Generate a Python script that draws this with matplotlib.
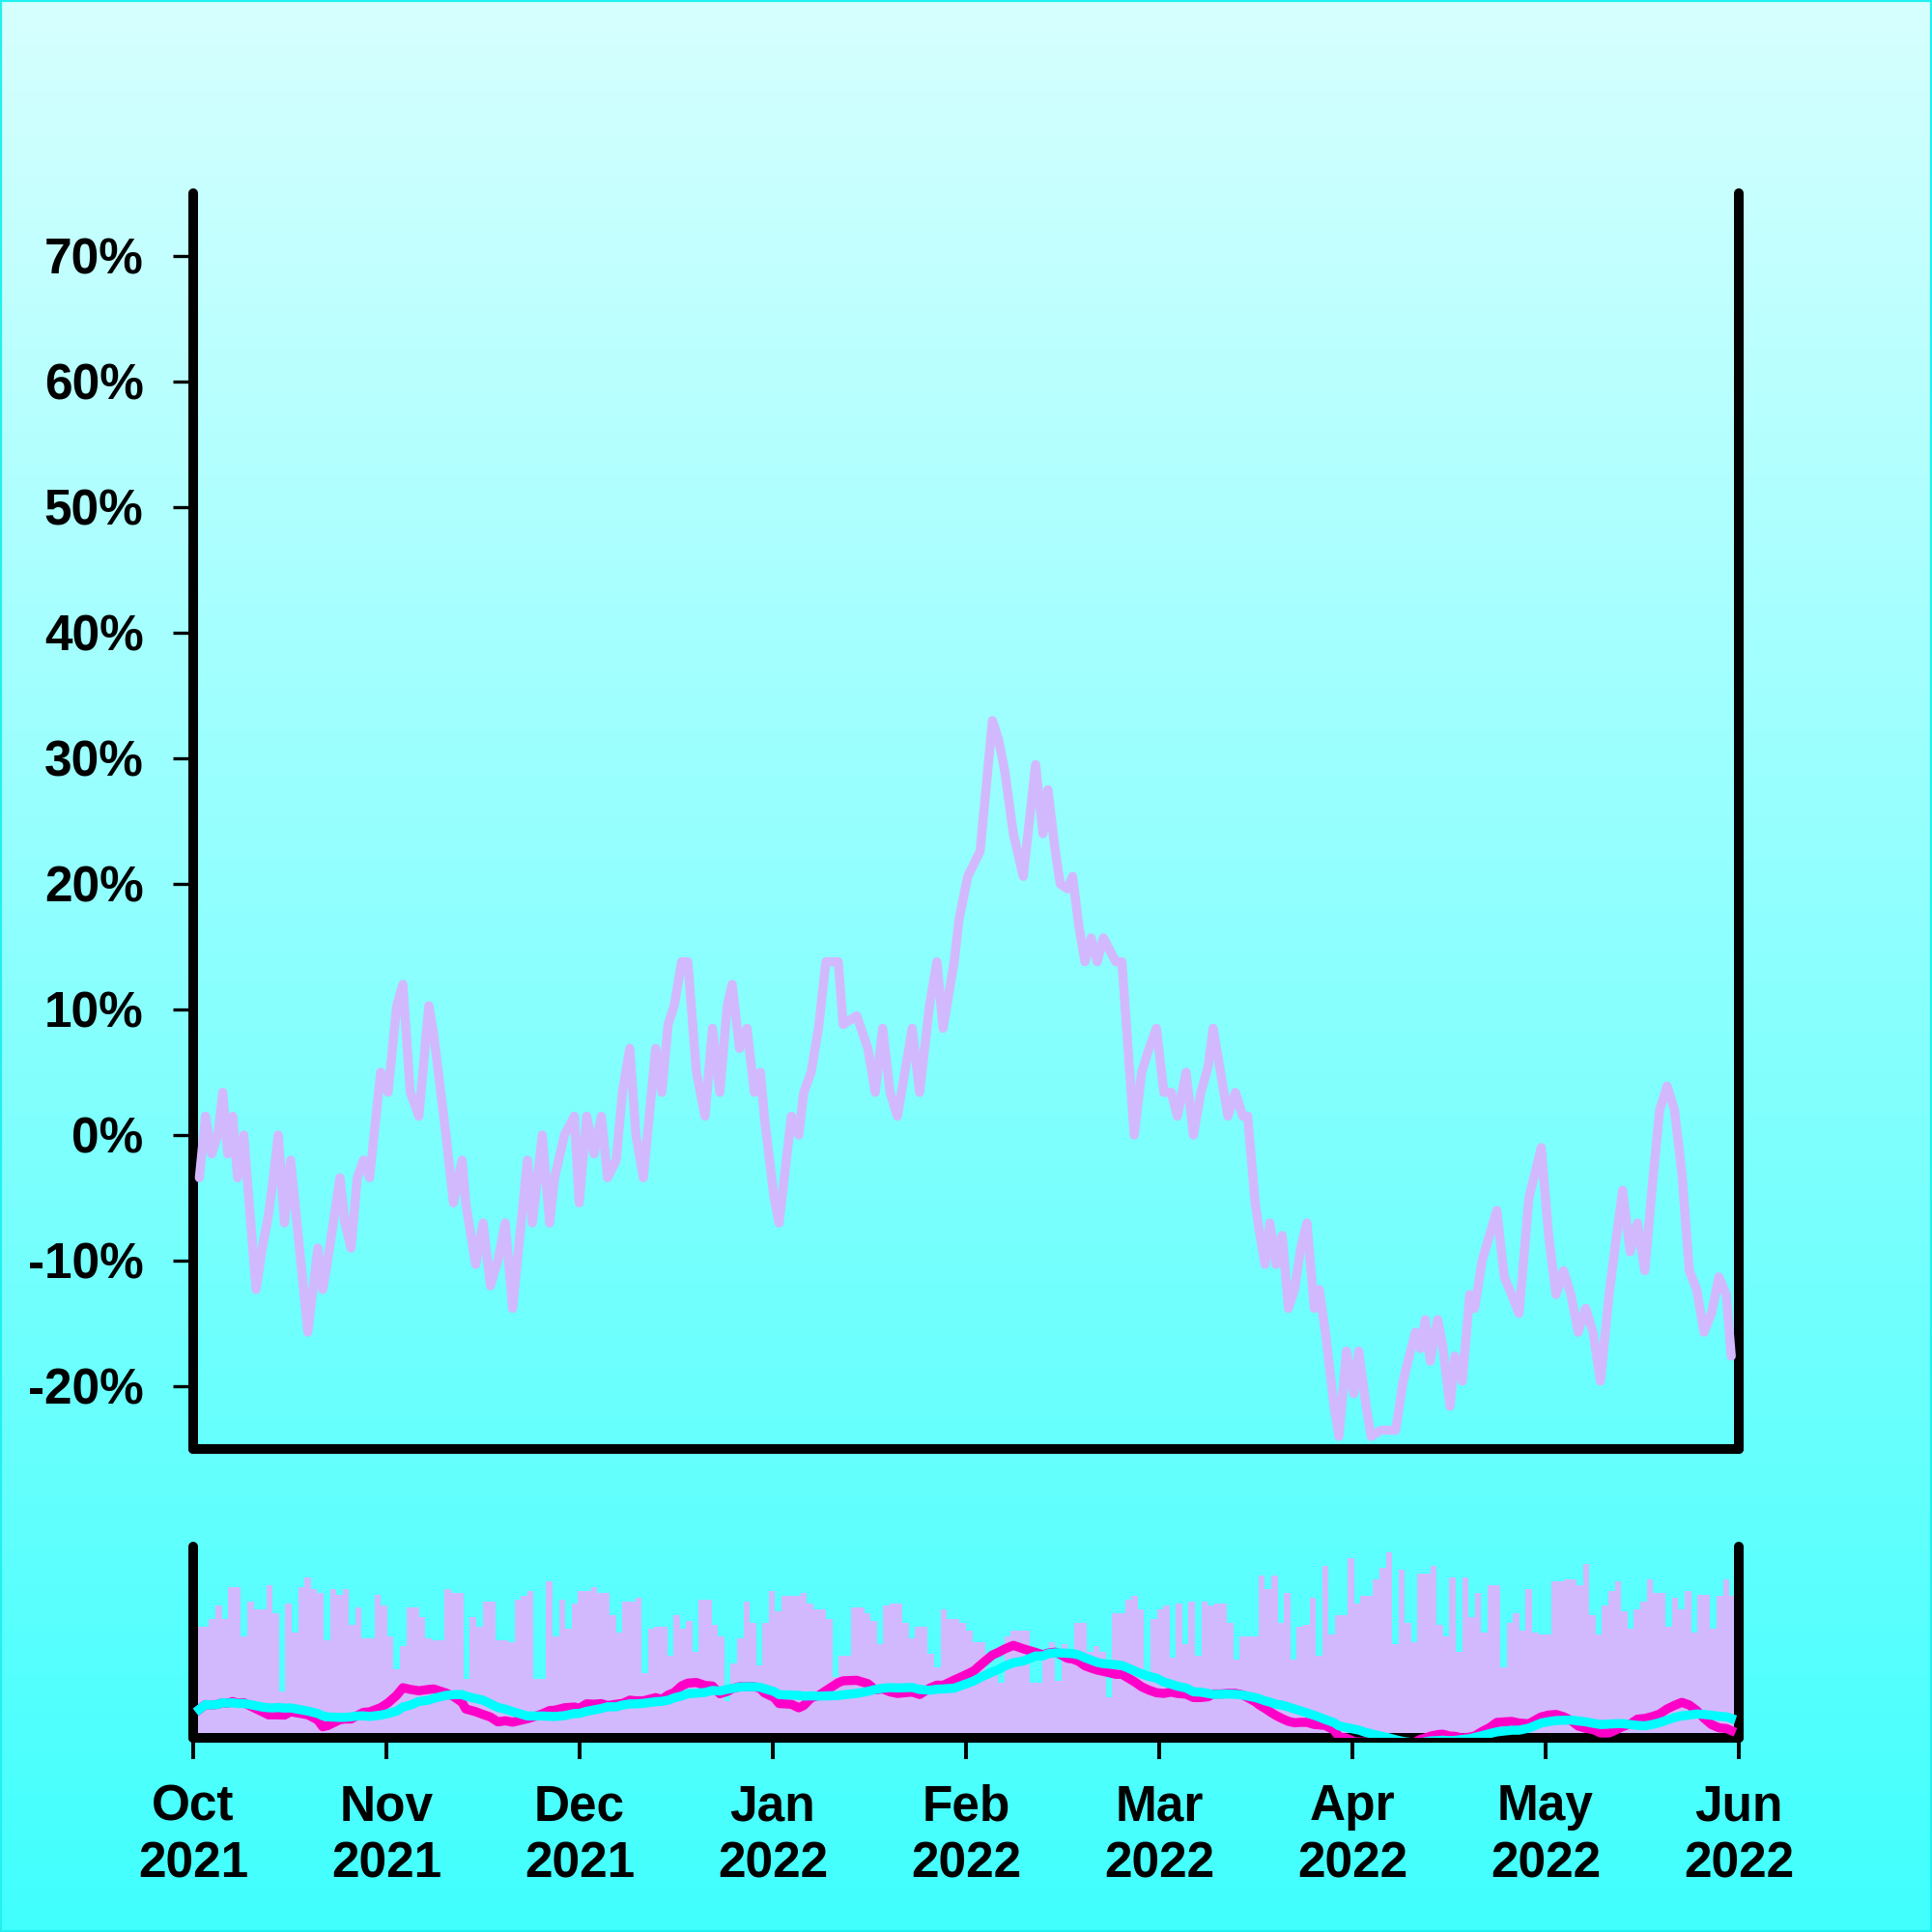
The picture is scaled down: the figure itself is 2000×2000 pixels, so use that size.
import numpy as np
import pandas as pd
import matplotlib
matplotlib.use("Agg")
import matplotlib.pyplot as plt
from matplotlib.ticker import FuncFormatter, FixedLocator
from matplotlib.colors import LinearSegmentedColormap
from matplotlib.patches import Rectangle

# ---------------- data ----------------
# x axis: day offsets from 2021-10-01, months spaced evenly (Oct 2021 .. Jun 2022)
x_span_days = 243
month_labels = ["Oct\n2021", "Nov\n2021", "Dec\n2021", "Jan\n2022", "Feb\n2022",
                "Mar\n2022", "Apr\n2022", "May\n2022", "Jun\n2022"]

price_day = [0.97, 1.94, 2.91, 3.88, 4.65, 5.43, 6.21, 6.98, 7.95, 9.89,
             10.86, 11.83, 12.60, 13.38, 14.35, 15.32, 18.03, 19.59, 20.36, 21.14,
             23.08, 23.85, 24.82, 25.79, 26.76, 27.73, 29.47, 30.64, 32.00, 32.97,
             34.13, 35.49, 37.04, 37.81, 39.75, 40.92, 42.27, 42.85, 44.41, 45.57,
             46.73, 47.90, 49.06, 50.22, 52.55, 53.33, 54.88, 56.04, 56.82, 58.37,
             59.92, 60.69, 61.86, 63.02, 64.18, 65.15, 66.51, 67.48, 68.64, 69.61,
             70.78, 72.72, 73.69, 74.66, 75.63, 76.79, 77.76, 79.12, 80.47, 81.64,
             82.80, 83.96, 84.74, 85.90, 87.07, 88.23, 89.20, 89.78, 91.33, 92.11,
             94.05, 95.21, 95.99, 97.15, 98.31, 99.48, 101.42, 102.19, 104.32, 106.07,
             107.23, 108.40, 109.56, 110.72, 113.05, 114.21, 115.76, 116.93, 117.90, 119.64,
             120.42, 121.78, 122.75, 123.72, 125.66, 126.62, 127.59, 128.95, 130.50, 132.44,
             133.60, 134.38, 135.54, 136.32, 137.48, 138.26, 139.23, 140.20, 141.17, 142.14,
             143.11, 145.05, 146.01, 147.95, 149.12, 150.28, 151.44, 152.61, 153.77, 154.74,
             156.10, 157.26, 158.43, 159.59, 160.36, 161.53, 162.69, 163.85, 165.02, 165.79,
             166.96, 167.73, 168.51, 169.28, 170.25, 171.22, 172.19, 173.16, 174.13, 175.10,
             176.26, 177.04, 178.01, 179.37, 180.14, 181.31, 182.47, 183.25, 184.41, 185.19,
             186.74, 187.90, 189.06, 190.23, 191.00, 192.17, 192.94, 193.72, 194.49, 195.66,
             196.43, 197.60, 198.37, 199.53, 200.70, 201.47, 202.64, 203.80, 204.96, 206.13,
             207.29, 208.45, 210.01, 210.78, 211.94, 213.11, 214.27, 215.44, 216.60, 217.76,
             218.93, 220.09, 221.25, 222.61, 223.58, 224.74, 225.91, 227.07, 228.23, 229.40,
             230.56, 231.73, 232.89, 234.05, 235.22, 236.38, 237.54, 238.71, 239.87, 241.03,
             241.81]

price_pct = [-3.4, 1.5, -1.5, 0, 3.4, -1.5, 1.5, -3.4, 0, -12.3,
             -9, -6.4, -3.4, 0, -7, -2, -15.7, -9, -12.3, -10,
             -3.4, -7, -9, -3.4, -2, -3.4, 5, 3.4, 10.3, 12,
             3.4, 1.5, 10.3, 8, 0, -5.4, -2, -5.4, -10.3, -7,
             -12, -10, -7, -13.8, -2, -7, 0, -7, -3.4, 0,
             1.5, -5.4, 1.5, -1.5, 1.5, -3.4, -2, 3.4, 6.9, 0,
             -3.4, 6.9, 3.4, 8.8, 10.3, 13.8, 13.8, 5, 1.5, 8.5,
             3.4, 10.3, 12, 6.9, 8.5, 3.4, 5, 1.5, -5, -7,
             1.5, 0, 3.4, 5, 8.5, 13.8, 13.8, 8.8, 9.5, 6.9,
             3.4, 8.5, 3.4, 1.5, 8.5, 3.4, 10.3, 13.8, 8.5, 13.8,
             17.2, 20.6, 21.6, 22.6, 33, 31.5, 29, 24, 20.6, 29.5,
             24, 27.5, 22.6, 20, 19.6, 20.6, 16.7, 13.8, 15.7, 13.8,
             15.7, 13.8, 13.8, 0, 5, 6.9, 8.5, 3.4, 3.4, 1.5,
             5, 0, 3.4, 5.5, 8.5, 5, 1.5, 3.4, 1.5, 1.5,
             -5.4, -8, -10.3, -7, -10.3, -8, -13.8, -12.3, -9, -7,
             -13.8, -12.3, -15.7, -21.6, -24, -17.2, -20.6, -17.2, -21.6, -24,
             -23.5, -23.5, -23.5, -19.6, -18, -15.7, -17, -14.7, -18, -14.7,
             -16.7, -21.6, -17.6, -19.6, -12.7, -13.8, -10, -8, -6, -11.3,
             -12.7, -14.2, -5, -3.4, -1, -8, -12.7, -10.8, -12.7, -15.7,
             -13.8, -15.7, -19.6, -12.7, -8.8, -4.4, -9.3, -7, -10.8, -4,
             2, 3.9, 2, -3, -10.8, -12.3, -15.7, -14.2, -11.3, -12.7,
             -17.6]

# daily volume (relative units), one bar per day starting at day offset 1
volume_first_day = 1
volume = [58, 58, 62, 69, 62, 79, 79, 53, 71, 67,
          67, 80, 65, 24, 70, 55, 79, 84, 78, 76,
          51, 78, 75, 78, 59, 68, 52, 52, 75, 69,
          53, 36, 48, 68, 68, 63, 52, 51, 51, 78,
          76, 76, 31, 63, 58, 71, 71, 51, 51, 50,
          72, 74, 77, 31, 31, 82, 53, 72, 57, 70,
          77, 77, 79, 76, 76, 64, 55, 71, 71, 73,
          34, 57, 58, 58, 43, 64, 57, 61, 45, 72,
          72, 59, 53, 19, 39, 52, 71, 60, 38, 60,
          77, 66, 74, 74, 74, 76, 70, 67, 67, 62,
          32, 43, 43, 68, 68, 65, 61, 49, 69, 70,
          70, 60, 52, 58, 58, 44, 37, 67, 62, 62,
          60, 56, 50, 50, 34, 34, 29, 53, 56, 56,
          56, 29, 29, 45, 50, 30, 49, 45, 60, 60,
          45, 48, 45, 21, 65, 65, 72, 74, 67, 34,
          62, 67, 69, 42, 70, 49, 71, 43, 71, 69,
          70, 70, 60, 41, 53, 53, 53, 85, 78, 85,
          60, 76, 41, 58, 59, 73, 43, 90, 54, 64,
          64, 94, 70, 74, 74, 83, 89, 97, 49, 88,
          60, 50, 86, 86, 90, 59, 53, 84, 45, 84,
          63, 76, 55, 80, 80, 37, 60, 65, 56, 78,
          55, 54, 54, 82, 82, 83, 83, 80, 91, 64,
          54, 69, 77, 82, 66, 57, 67, 71, 83, 76,
          76, 58, 73, 67, 77, 55, 75, 75, 57, 74,
          83, 74]

y_ticks = [-20, -10, 0, 10, 20, 30, 40, 50, 60, 70]

# ---------------- styling ----------------
LAVENDER = "#d2b9fd"
MAGENTA = "#ff00c8"
CYAN = "#00fcfc"
FONT_SIZE = 18.5
plt.rcParams["font.family"] = ["Liberation Sans", "DejaVu Sans"]
plt.rcParams["font.weight"] = "bold"

# moving averages of the price series (time based windows)
price_idx = pd.Timestamp("2021-10-01") + pd.to_timedelta(price_day, unit="D")
price = pd.Series(price_pct, index=price_idx)
ma_fast = price.rolling("5D").mean().values
ma_slow = price.rolling("14D").mean().values
vol_x = np.arange(len(volume)) + volume_first_day

fig = plt.figure(figsize=(10, 10), dpi=200)

# gradient background
bg = fig.add_axes([0, 0, 1, 1], zorder=-10)
cmap = LinearSegmentedColormap.from_list("bg", ["#40fffd", "#d6ffff"])
grad = np.linspace(0, 1, 512).reshape(-1, 1)
bg.imshow(grad, aspect="auto", cmap=cmap, origin="lower", extent=[0, 1, 0, 1])
bg.add_patch(Rectangle((0, 0), 1, 1, transform=bg.transAxes, fill=False,
                       edgecolor="#20f0f0", linewidth=1.5))
bg.set_xlim(0, 1)
bg.set_ylim(0, 1)
bg.axis("off")


def style_spines(a):
    a.patch.set_alpha(0)
    a.spines["top"].set_visible(False)
    for s in ["left", "right", "bottom"]:
        a.spines[s].set_linewidth(3.6)
        a.spines[s].set_color("black")
        a.spines[s].set_capstyle("round")


month_pos = np.linspace(0, x_span_days, len(month_labels))

# ---------- top panel ----------
ax = fig.add_axes([0.1, 0.25, 0.8, 0.65])
style_spines(ax)
ax.plot(price_day, price_pct, color=LAVENDER, linewidth=3.4,
        solid_joinstyle="round", solid_capstyle="round", zorder=3)
ax.set_xlim(0, x_span_days)
ax.set_ylim(-25, 75)
ax.yaxis.set_major_locator(FixedLocator(y_ticks))
ax.yaxis.set_major_formatter(FuncFormatter(lambda v, p: f"{int(round(v))}%"))
ax.tick_params(axis="y", length=7.5, width=1.2, color="black", pad=11,
               labelsize=FONT_SIZE, right=False)
ax.tick_params(axis="x", bottom=False, labelbottom=False)
for lab in ax.get_yticklabels():
    lab.set_fontweight("bold")

# ---------- bottom panel ----------
axv = fig.add_axes([0.1, 0.1005, 0.8, 0.099])
style_spines(axv)
axv.bar(vol_x, volume, width=1.0, color=LAVENDER, linewidth=0, zorder=2)
axv.set_xlim(0, x_span_days)
axv.set_ylim(0, 100)
axv.set_yticks([])
axv.set_xticks(month_pos)
axv.set_xticklabels(month_labels)
axv.tick_params(axis="x", length=8, width=1.4, color="black", pad=9,
                labelsize=FONT_SIZE)
for lab in axv.get_xticklabels():
    lab.set_fontweight("bold")
    lab.set_linespacing(1.28)

axm = axv.twinx()
axm.patch.set_alpha(0)
for s in axm.spines.values():
    s.set_visible(False)
axm.plot(price_day, ma_fast, color=MAGENTA, linewidth=3.4, zorder=3)
axm.plot(price_day, ma_slow, color=CYAN, linewidth=3.4, zorder=4)
axm.set_ylim(-18, 80)
axm.set_yticks([])
axm.set_xlim(0, x_span_days)

fig.savefig("out.png", dpi=200)
